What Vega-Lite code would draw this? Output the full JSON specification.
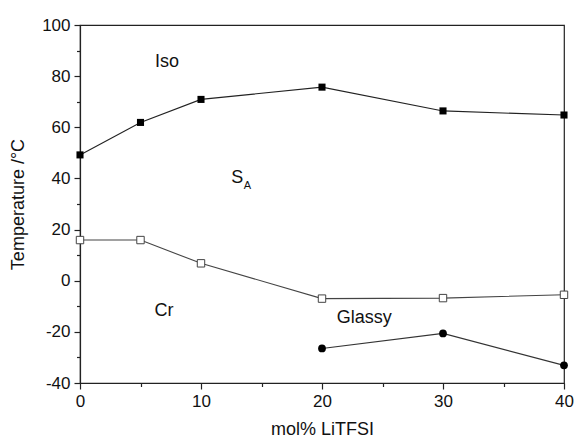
{
  "$schema": "https://vega.github.io/schema/vega-lite/v6.json",
  "width": 484,
  "height": 358,
  "autosize": {"type": "none"},
  "padding": {"left": 80, "top": 25, "right": 11, "bottom": 58},
  "background": "white",
  "config": {
    "view": {"stroke": "#222", "strokeWidth": 1.2},
    "font": "Liberation Sans",
    "axis": {
      "grid": false,
      "domainColor": "#222",
      "domainWidth": 1.2,
      "tickColor": "#222",
      "tickWidth": 1.2,
      "labelFont": "Liberation Sans",
      "labelFontSize": 17,
      "labelColor": "#111",
      "titleFont": "Liberation Sans",
      "titleFontSize": 18,
      "titleFontWeight": "normal",
      "titleColor": "#111"
    }
  },
  "datasets": {
    "iso": [
      {"x": 0, "y": 49.2}, {"x": 5, "y": 61.9}, {"x": 10, "y": 70.9},
      {"x": 20, "y": 75.7}, {"x": 30, "y": 66.4}, {"x": 40, "y": 64.8}
    ],
    "cr": [
      {"x": 0, "y": 15.9}, {"x": 5, "y": 15.9}, {"x": 10, "y": 6.8},
      {"x": 20, "y": -7.0}, {"x": 30, "y": -6.8}, {"x": 40, "y": -5.5}
    ],
    "glassy": [
      {"x": 20, "y": -26.5}, {"x": 30, "y": -20.6}, {"x": 40, "y": -33.1}
    ],
    "labels": [
      {"x": 7.19, "y": 85.5, "t": "Iso"},
      {"x": 13.0, "y": 40.3, "t": "S"},
      {"x": 6.94, "y": -12.0, "t": "Cr"},
      {"x": 23.5, "y": -14.6, "t": "Glassy"}
    ],
    "sub": [
      {"x": 13.84, "y": 37.0, "t": "A"}
    ]
  },
  "encoding": {
    "x": {
      "field": "x", "type": "quantitative",
      "scale": {"domain": [0, 40], "nice": false, "zero": false},
      "axis": {
        "title": "mol% LiTFSI",
        "values": [0, 5, 10, 15, 20, 25, 30, 35, 40],
        "labelExpr": "datum.value % 10 === 0 ? datum.label : ''",
        "tickSize": {"condition": {"test": "datum.value % 10 === 0", "value": 6}, "value": 3.5},
        "labelPadding": 4,
        "titlePadding": 11,
        "labelFlush": false,
        "labelOverlap": false
      }
    },
    "y": {
      "field": "y", "type": "quantitative",
      "scale": {"domain": [-40, 100], "nice": false, "zero": false},
      "axis": {
        "title": "Temperature /°C",
        "values": [-40, -30, -20, -10, 0, 10, 20, 30, 40, 50, 60, 70, 80, 90, 100],
        "labelExpr": "datum.value % 20 === 0 ? toString(datum.value) : ''",
        "tickSize": {"condition": {"test": "datum.value % 20 === 0", "value": 6}, "value": 3.5},
        "labelPadding": 4,
        "titlePadding": 14,
        "labelFlush": false,
        "labelOverlap": false
      }
    }
  },
  "layer": [
    {"data": {"name": "iso"}, "mark": {"type": "line", "color": "#222", "strokeWidth": 1.1}},
    {"data": {"name": "iso"}, "mark": {"type": "point", "shape": "square", "filled": true, "color": "#000", "size": 50, "opacity": 1}},
    {"data": {"name": "cr"}, "mark": {"type": "line", "color": "#444", "strokeWidth": 1.1}},
    {"data": {"name": "cr"}, "mark": {"type": "point", "shape": "square", "filled": true, "fill": "white", "stroke": "#444", "strokeWidth": 1, "size": 55, "opacity": 1}},
    {"data": {"name": "glassy"}, "mark": {"type": "line", "color": "#333", "strokeWidth": 1.1}},
    {"data": {"name": "glassy"}, "mark": {"type": "point", "shape": "circle", "filled": true, "color": "#000", "size": 60, "opacity": 1}},
    {"data": {"name": "labels"}, "mark": {"type": "text", "fontSize": 18, "color": "#111", "align": "center", "baseline": "middle"}, "encoding": {"text": {"field": "t"}}},
    {"data": {"name": "sub"}, "mark": {"type": "text", "fontSize": 11, "color": "#111", "align": "center", "baseline": "middle"}, "encoding": {"text": {"field": "t"}}}
  ]
}
